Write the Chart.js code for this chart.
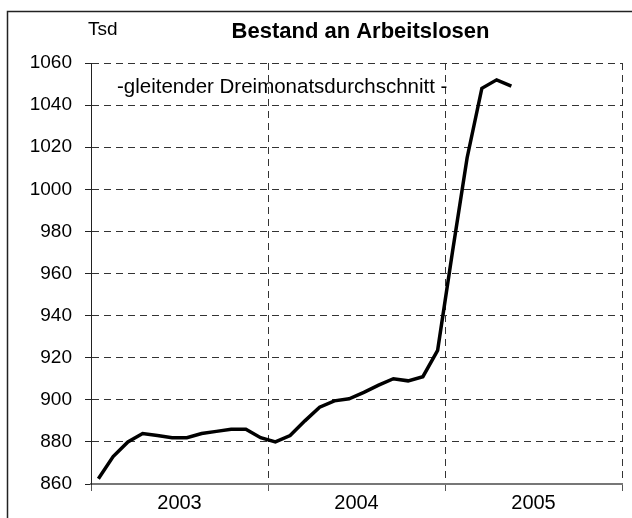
<!DOCTYPE html>
<html>
<head>
<meta charset="utf-8">
<script src="https://cdn.jsdelivr.net/npm/chart.js@4/dist/chart.umd.min.js"></script>
<style>
html,body{margin:0;padding:0;background:#fff;}
#wrap{width:632px;height:518px;position:relative;}
</style>
</head>
<body>
<div id="wrap"><canvas id="c" width="632" height="518"></canvas></div>
<script>
// Monthly observations, Jan 2003 .. May 2005 (three-month moving average, thousands)
const months = ['2003-01','2003-02','2003-03','2003-04','2003-05','2003-06','2003-07','2003-08','2003-09','2003-10','2003-11','2003-12',
                '2004-01','2004-02','2004-03','2004-04','2004-05','2004-06','2004-07','2004-08','2004-09','2004-10','2004-11','2004-12',
                '2005-01','2005-02','2005-03','2005-04','2005-05'];
const values = [862.5, 873, 880, 884, 883, 882, 882, 884, 885, 886, 886, 882,
                880, 883, 890, 896.5, 899.5, 900.5, 903.5, 907, 910, 909, 911, 923.5,
                970, 1015, 1048, 1052, 1049];
const years = ['2003', '2004', '2005'];
const yMin = 860, yMax = 1060, yStep = 20;
const titleText = 'Bestand an Arbeitslosen';
const unitText = 'Tsd';
const noteText = '-gleitender Dreimonatsdurchschnitt -';

const FONT = "'Liberation Sans', Arial, sans-serif";
const monthsPerYear = 12;
const points = values.map((v, i) => ({ x: i + 0.5, y: v }));

const decor = {
  id: 'decor',
  beforeDraw(chart) {
    const ctx = chart.ctx;
    ctx.save();
    ctx.strokeStyle = '#222';
    ctx.lineWidth = 1.5;
    ctx.beginPath();
    ctx.moveTo(7.5, 520);
    ctx.lineTo(7.5, 11.5);
    ctx.lineTo(640, 11.5);
    ctx.stroke();
    ctx.restore();
  },
  afterDraw(chart) {
    const ctx = chart.ctx;
    const a = chart.chartArea;
    ctx.save();
    ctx.fillStyle = '#000';
    ctx.textBaseline = 'middle';
    ctx.font = 'bold 22px ' + FONT;
    ctx.textAlign = 'center';
    ctx.fillText(titleText, (a.left + a.right) / 2 + 4, 32);
    ctx.font = '19px ' + FONT;
    ctx.textAlign = 'left';
    ctx.fillText(unitText, a.left - 3, 30);
    ctx.font = '20.5px ' + FONT;
    ctx.fillText(noteText, a.left + 26, 87);
    ctx.restore();
  }
};

new Chart(document.getElementById('c'), {
  type: 'line',
  data: {
    datasets: [{
      data: points,
      borderColor: '#000',
      borderWidth: 3.5,
      pointRadius: 0,
      tension: 0,
      fill: false
    }]
  },
  options: {
    responsive: false,
    animation: false,
    layout: { padding: { left: 0, right: 10, top: 63, bottom: 0 } },
    plugins: { legend: { display: false }, title: { display: false }, tooltip: { enabled: false } },
    scales: {
      x: {
        type: 'linear',
        min: 0,
        max: years.length * monthsPerYear,
        afterBuildTicks(scale) {
          const t = [];
          for (let v = 0; v <= years.length * monthsPerYear; v += monthsPerYear / 2) t.push({ value: v });
          scale.ticks = t;
        },
        afterFit(scale) { scale.height = 34; },
        ticks: {
          autoSkip: false,
          maxRotation: 0,
          padding: 0,
          color: '#000',
          font: { family: FONT, size: 20 },
          callback(v) {
            const k = (v - monthsPerYear / 2) / monthsPerYear;
            return Number.isInteger(k) && years[k] ? years[k] : '';
          }
        },
        grid: {
          drawOnChartArea: true,
          color(c) { const v = c.tick ? c.tick.value : 0; return (v % monthsPerYear === 0 && v !== 0) ? '#333' : 'rgba(0,0,0,0)'; },
          tickColor(c) { const v = c.tick ? c.tick.value : 0; return (v % monthsPerYear === 0) ? '#555' : 'rgba(0,0,0,0)'; },
          lineWidth: 1,
          tickLength: 7,
          tickBorderDash: []
        },
        border: { display: true, color: '#777', width: 2, dash: [7, 5] }
      },
      y: {
        min: yMin,
        max: yMax,
        afterFit(scale) { scale.width = 91; },
        ticks: {
          stepSize: yStep,
          padding: 13,
          color: '#000',
          font: { family: FONT, size: 19 },
          callback(v) { return String(v); }
        },
        grid: {
          color(c) { return c.tick && c.tick.value === yMin ? 'rgba(0,0,0,0)' : '#333'; },
          tickColor: '#222',
          lineWidth: 1,
          tickLength: 6,
          tickBorderDash: []
        },
        border: { display: true, color: '#222', width: 1, dash: [7, 5] }
      }
    }
  },
  plugins: [decor]
});
</script>
</body>
</html>
